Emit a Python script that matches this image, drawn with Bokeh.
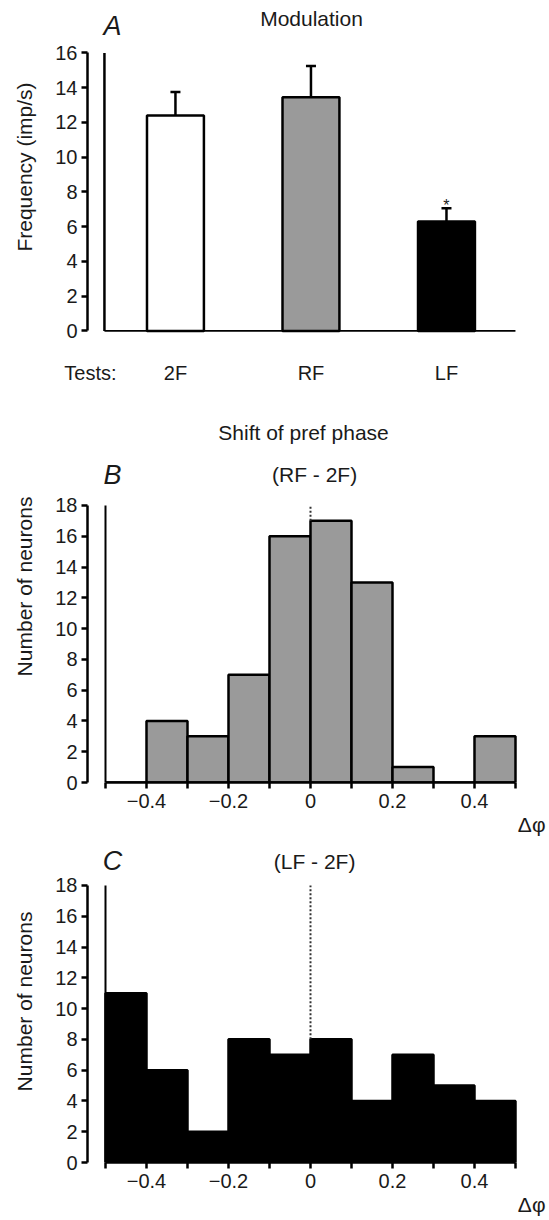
from bokeh.plotting import figure
from bokeh.models import (Range1d, FixedTicker, Label, Whisker, TeeHead, Title,
                          ColumnDataSource, CustomJSTickFormatter)
from bokeh.layouts import column
from bokeh.embed import file_html
from bokeh.resources import INLINE

FONT = "Liberation Sans"
INK = "#1a1a1a"

# ---------------- data ----------------
categories = ["2F", "RF", "LF"]
modulation_mean = [12.4, 13.45, 6.3]
modulation_sem = [1.35, 1.8, 0.76]
bar_fills = ["white", "#9a9a9a", "black"]
freq_ticks = [0, 2, 4, 6, 8, 10, 12, 14, 16]

bin_edges = [-0.5, -0.4, -0.3, -0.2, -0.1, 0.0, 0.1, 0.2, 0.3, 0.4, 0.5]
rf_counts = [0, 4, 3, 7, 16, 17, 13, 1, 0, 3]
lf_counts = [11, 6, 2, 8, 7, 8, 4, 7, 5, 4]
count_ticks = [0, 2, 4, 6, 8, 10, 12, 14, 16, 18]


def style_y(ax, label, ticks):
    ax.ticker = FixedTicker(ticks=ticks)
    ax.bounds = (ticks[0], ticks[-1])
    ax.axis_label = label
    ax.axis_label_text_font = FONT
    ax.axis_label_text_font_style = "normal"
    ax.axis_label_text_font_size = "21px"
    ax.axis_label_text_color = INK
    ax.axis_label_standoff = 16
    ax.axis_line_width = 2.5
    ax.axis_line_color = "black"
    ax.major_tick_line_width = 2.5
    ax.major_tick_line_color = "black"
    ax.major_tick_out = 6
    ax.major_tick_in = 0
    ax.minor_tick_line_color = None
    ax.major_label_text_font = FONT
    ax.major_label_text_font_size = "20px"
    ax.major_label_text_color = INK
    ax.major_label_standoff = 4


def text_label(x, y, txt, dy, size="21px", style="normal", align="center", baseline="middle"):
    return Label(x=x, y=y, y_offset=dy, text=txt, text_font=FONT,
                 text_font_size=size, text_font_style=style, text_align=align,
                 text_baseline=baseline, text_color=INK)


# ---------------- panel A ----------------
xs = list(range(len(categories)))
pA = figure(width=549, height=390, x_range=Range1d(-0.649, 2.62), y_range=Range1d(-0.15, 19.016),
            output_backend="svg", toolbar_location=None, tools="",
            min_border_left=87, min_border_right=19, min_border_top=0, min_border_bottom=57)
pA.grid.visible = False
pA.outline_line_color = None

srcA = ColumnDataSource(dict(x=xs, top=modulation_mean, fill=bar_fills,
                             upper=[m + s for m, s in zip(modulation_mean, modulation_sem)]))
pA.add_layout(Whisker(source=srcA, base="x", lower="top", upper="upper", dimension="height",
                      line_width=2.5, line_color="black", lower_head=None,
                      upper_head=TeeHead(size=10, line_width=2.5, line_color="black")))
pA.vbar(x="x", top="top", bottom=0, width=0.42, fill_color="fill", line_color="black",
        line_width=2.5, source=srcA)
# frame lines (left wall and baseline)
pA.segment(x0=[-0.524, -0.524], y0=[freq_ticks[0], freq_ticks[0]],
           x1=[-0.524, 2.509], y1=[freq_ticks[-1], freq_ticks[0]],
           line_color="black", line_width=[2.5, 1.8])

style_y(pA.yaxis[0], "Frequency (imp/s)", freq_ticks)

axA = pA.xaxis[0]
axA.ticker = FixedTicker(ticks=[-0.627] + xs)
axA.formatter = CustomJSTickFormatter(args=dict(cats=categories), code="""
    if (tick < 0) return "Tests:";
    return cats[Math.round(tick)];
""")
axA.axis_line_color = None
axA.major_tick_line_color = None
axA.minor_tick_line_color = None
axA.major_label_text_font = FONT
axA.major_label_text_font_size = "20px"
axA.major_label_text_color = INK
axA.major_label_standoff = 22

pA.add_layout(text_label(1.004, freq_ticks[-1], "Modulation", 34))
pA.add_layout(text_label(-0.465, freq_ticks[-1], "A", 27, size="27px", style="italic"))
pA.add_layout(text_label(xs[2], modulation_mean[2] + modulation_sem[2], "*", 3,
                         size="16px", baseline="alphabetic"))


# ---------------- histogram panels ----------------
def make_hist(counts, fill, height, y_top, bottom_border):
    p = figure(width=549, height=height, x_range=Range1d(-0.5439, 0.5366),
               y_range=Range1d(0, y_top), output_backend="svg", toolbar_location=None, tools="",
               min_border_left=87, min_border_right=19, min_border_top=0,
               min_border_bottom=bottom_border)
    p.grid.visible = False
    p.outline_line_color = None
    p.quad(left=bin_edges[:-1], right=bin_edges[1:], top=counts, bottom=0,
           fill_color=fill, line_color="black", line_width=2.5)
    zi = bin_edges.index(0.0)
    p.segment(x0=[bin_edges[zi]], y0=[max(counts[zi - 1], counts[zi])], x1=[bin_edges[zi]],
              y1=[count_ticks[-1]], line_color="#333333", line_width=2, line_dash="2 2")
    # left wall
    p.segment(x0=[bin_edges[0]], y0=[count_ticks[0]], x1=[bin_edges[0]], y1=[count_ticks[-1]],
              line_color="black", line_width=2)

    style_y(p.yaxis[0], "Number of neurons", count_ticks)

    ax = p.xaxis[0]
    ax.ticker = FixedTicker(ticks=bin_edges)
    ax.formatter = CustomJSTickFormatter(code="""
        const k = Math.round(tick * 10);
        if (k % 2 !== 0) return "";
        if (k === 0) return "0";
        return (k < 0 ? "\\u2212" : "") + Math.abs(tick).toFixed(1);
    """)
    ax.bounds = (bin_edges[0], bin_edges[-1])
    ax.axis_line_width = 2.5
    ax.axis_line_color = "black"
    ax.major_tick_line_width = 2.5
    ax.major_tick_line_color = "black"
    ax.major_tick_out = 6
    ax.major_tick_in = 0
    ax.minor_tick_line_color = None
    ax.major_label_text_font = FONT
    ax.major_label_text_font_size = "20px"
    ax.major_label_text_color = INK
    ax.major_label_standoff = 5

    p.add_layout(Title(text="\u0394\u03c6", align="right", offset=-15, text_font=FONT,
                       text_font_size="21px", text_font_style="normal", text_color=INK,
                       standoff=0), "below")
    return p


pB = make_hist(rf_counts, "#9a9a9a", 450, 25.47, 58)
pB.add_layout(text_label(-0.017, count_ticks[-1], "Shift of pref phase", 73))
pB.add_layout(text_label(0.01, count_ticks[-1], "(RF - 2F)", 31))
pB.add_layout(text_label(-0.483, count_ticks[-1], "B", 30, size="27px", style="italic"))

pC = make_hist(lf_counts, "black", 380, 20.92, 58)
pC.add_layout(text_label(0.01, count_ticks[-1], "(LF - 2F)", 24))
pC.add_layout(text_label(-0.483, count_ticks[-1], "C", 24, size="27px", style="italic"))

layout = column(pA, pB, pC, spacing=0)
open("out.html", "w").write(file_html(layout, INLINE))
